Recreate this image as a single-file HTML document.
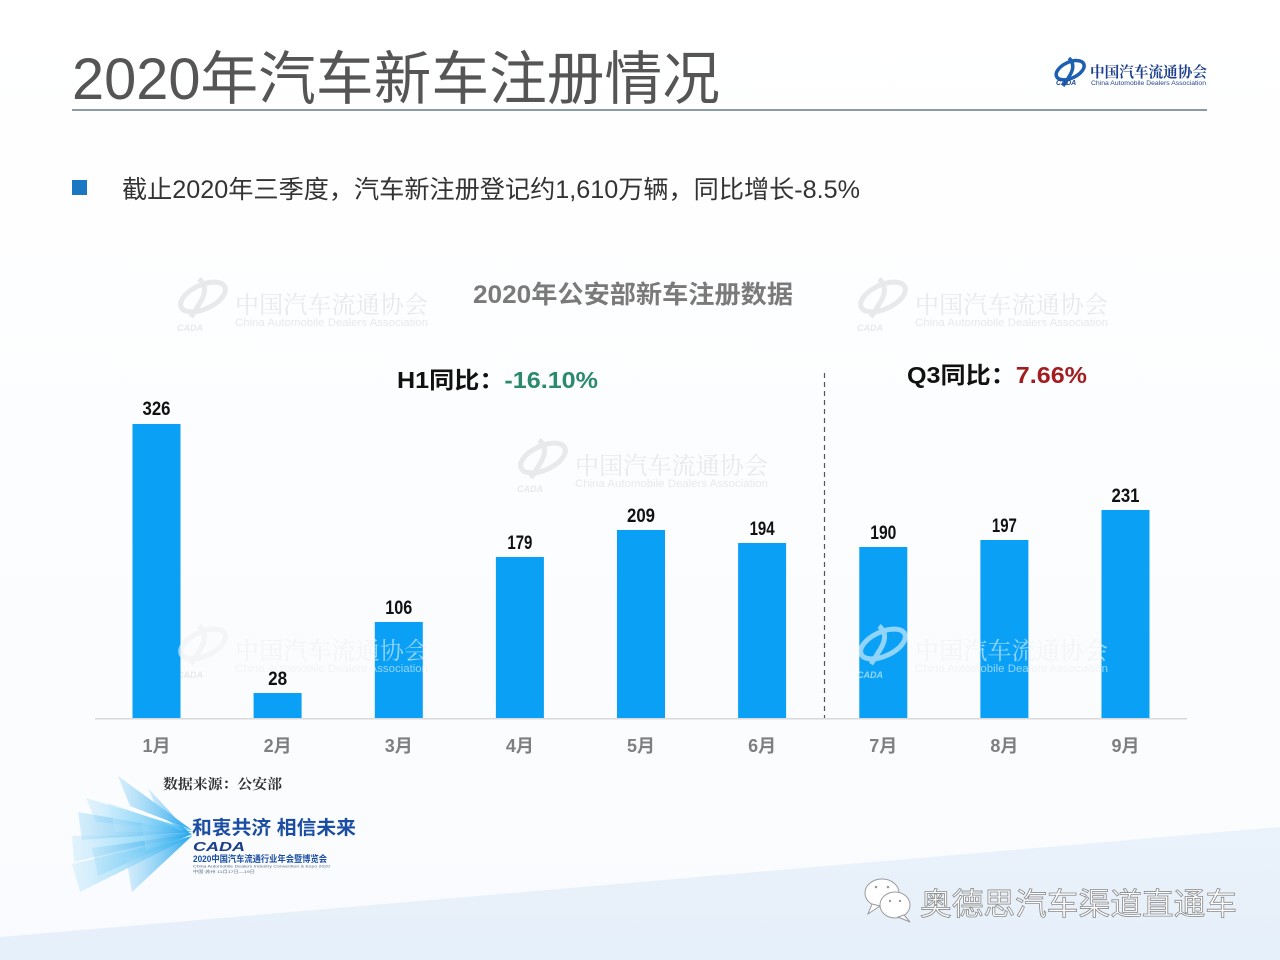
<!DOCTYPE html>
<html><head><meta charset="utf-8">
<style>
html,body{margin:0;padding:0;background:#fbfcfe;}
svg{display:block;}
.cjk{font-family:"Liberation Sans","Noto Sans CJK SC",sans-serif;}
.ser{font-family:"Liberation Serif","Noto Serif CJK SC",serif;}
</style></head>
<body>
<svg width="1280" height="960" viewBox="0 0 1280 960" xmlns="http://www.w3.org/2000/svg">
<defs>
<linearGradient id="bg" x1="0" y1="0" x2="0" y2="1">
<stop offset="0" stop-color="#ffffff"/><stop offset="1" stop-color="#f9fbfe"/>
</linearGradient>
<linearGradient id="band" x1="0" y1="0" x2="0" y2="1">
<stop offset="0" stop-color="#eaf2fb"/><stop offset="1" stop-color="#e6f0fa"/>
</linearGradient>
<linearGradient id="ray" x1="0" y1="0" x2="1" y2="0">
<stop offset="0" stop-color="#a9dcf8" stop-opacity="0.45"/><stop offset="1" stop-color="#1ba3ec" stop-opacity="0.95"/>
</linearGradient>
<linearGradient id="ray2" x1="0" y1="0" x2="1" y2="0">
<stop offset="0" stop-color="#c6e9fb" stop-opacity="0.45"/><stop offset="1" stop-color="#3dbcf2" stop-opacity="0.9"/>
</linearGradient>
<g id="wmIcon">
<ellipse cx="0" cy="0" rx="24" ry="12" transform="rotate(-25)" fill="none" stroke="currentColor" stroke-width="5"/>
<path d="M-4 -18 Q6 -10 -2 4 Q-8 14 -12 20" fill="none" stroke="currentColor" stroke-width="5"/>
</g>
</defs>
<rect width="1280" height="960" fill="url(#bg)"/>
<polygon points="0,937 1280,827 1280,960 0,960" fill="url(#band)"/>

<!-- Title -->
<text x="72" y="99" class="cjk" font-size="58" fill="#555555" textLength="648" lengthAdjust="spacingAndGlyphs">2020年汽车新车注册情况</text>
<rect x="72" y="109" width="1135" height="2" fill="#8c9aa6"/>

<!-- top-right logo -->
<g transform="translate(1071,72)" color="#1d4a9c">
<ellipse cx="0" cy="-2" rx="15" ry="8" transform="rotate(-25)" fill="none" stroke="#1d5fb0" stroke-width="3.5"/>
<path d="M-2 -14 Q5 -7 -1 3 Q-5 10 -8 14" fill="none" stroke="#1d5fb0" stroke-width="3.5"/>
<text x="-15" y="13" font-family="Liberation Sans,sans-serif" font-size="7" font-style="italic" font-weight="bold" fill="#1d4a9c">CADA</text>
</g>
<text x="1090" y="77" class="ser" font-size="15" font-weight="bold" fill="#1d3f8f" textLength="117" lengthAdjust="spacingAndGlyphs">中国汽车流通协会</text>
<text x="1091" y="85" font-family="Liberation Sans,sans-serif" font-size="6.5" fill="#2a4a8a" textLength="115" lengthAdjust="spacingAndGlyphs">China Automobile Dealers Association</text>

<!-- bullet -->
<rect x="72" y="180" width="15" height="15" fill="#1a78c2"/>
<text x="122" y="198" class="cjk" font-size="25" fill="#333333" textLength="738" lengthAdjust="spacingAndGlyphs">截止2020年三季度，汽车新注册登记约1,610万辆，同比增长-8.5%</text>

<!-- watermarks (gray layer) -->
<g id="wm" fill="#e8e9eb" color="#e8e9eb">
<g transform="translate(203,297)"><use href="#wmIcon"/></g>
<text x="177" y="331" font-family="Liberation Sans,sans-serif" font-size="9" font-style="italic" font-weight="bold">CADA</text>
<text x="235" y="313" class="ser" font-size="24" textLength="193" lengthAdjust="spacingAndGlyphs">中国汽车流通协会</text>
<text x="235" y="326" font-family="Liberation Sans,sans-serif" font-size="11" textLength="193" lengthAdjust="spacingAndGlyphs">China Automobile Dealers Association</text>

<g transform="translate(883,297)"><use href="#wmIcon"/></g>
<text x="857" y="331" font-family="Liberation Sans,sans-serif" font-size="9" font-style="italic" font-weight="bold">CADA</text>
<text x="915" y="313" class="ser" font-size="24" textLength="193" lengthAdjust="spacingAndGlyphs">中国汽车流通协会</text>
<text x="915" y="326" font-family="Liberation Sans,sans-serif" font-size="11" textLength="193" lengthAdjust="spacingAndGlyphs">China Automobile Dealers Association</text>

<g transform="translate(543,458)"><use href="#wmIcon"/></g>
<text x="517" y="492" font-family="Liberation Sans,sans-serif" font-size="9" font-style="italic" font-weight="bold">CADA</text>
<text x="575" y="474" class="ser" font-size="24" textLength="193" lengthAdjust="spacingAndGlyphs">中国汽车流通协会</text>
<text x="575" y="487" font-family="Liberation Sans,sans-serif" font-size="11" textLength="193" lengthAdjust="spacingAndGlyphs">China Automobile Dealers Association</text>
</g>

<!-- chart title -->
<text x="473" y="303" class="cjk" font-size="25" font-weight="bold" fill="#7a7a7a" textLength="320" lengthAdjust="spacingAndGlyphs">2020年公安部新车注册数据</text>

<!-- H1 / Q3 -->
<text x="397" y="388" class="cjk" font-size="23" font-weight="bold" fill="#111111" textLength="201" lengthAdjust="spacingAndGlyphs">H1同比：<tspan fill="#2b8a6c">-16.10%</tspan></text>
<text x="907" y="383" class="cjk" font-size="23" font-weight="bold" fill="#111111" textLength="180" lengthAdjust="spacingAndGlyphs">Q3同比：<tspan fill="#a31c1f">7.66%</tspan></text>

<!-- dashed divider -->
<line x1="824.5" y1="373" x2="824.5" y2="718" stroke="#555555" stroke-width="1.2" stroke-dasharray="5,4"/>

<!-- gray watermarks lower (under bars) -->
<g fill="#e8e9eb" color="#e8e9eb">
<g transform="translate(203,644)"><use href="#wmIcon"/></g>
<text x="177" y="678" font-family="Liberation Sans,sans-serif" font-size="9" font-style="italic" font-weight="bold">CADA</text>
<text x="235" y="659" class="ser" font-size="24" textLength="193" lengthAdjust="spacingAndGlyphs">中国汽车流通协会</text>
<text x="235" y="672" font-family="Liberation Sans,sans-serif" font-size="11" textLength="193" lengthAdjust="spacingAndGlyphs">China Automobile Dealers Association</text>
<g transform="translate(883,644)"><use href="#wmIcon"/></g>
<text x="857" y="678" font-family="Liberation Sans,sans-serif" font-size="9" font-style="italic" font-weight="bold">CADA</text>
<text x="915" y="659" class="ser" font-size="24" textLength="193" lengthAdjust="spacingAndGlyphs">中国汽车流通协会</text>
<text x="915" y="672" font-family="Liberation Sans,sans-serif" font-size="11" textLength="193" lengthAdjust="spacingAndGlyphs">China Automobile Dealers Association</text>
</g>

<!-- axis -->
<rect x="95" y="718" width="1092" height="1.5" fill="#d9d9d9"/>

<!-- bars -->
<g fill="#0aa0f6">
<rect x="132.5" y="424" width="48" height="294"/>
<rect x="253.6" y="693" width="48" height="25"/>
<rect x="374.8" y="622" width="48" height="96"/>
<rect x="495.9" y="557" width="48" height="161"/>
<rect x="617" y="530" width="48" height="188"/>
<rect x="738.1" y="543" width="48" height="175"/>
<rect x="859.3" y="547" width="48" height="171"/>
<rect x="980.4" y="540" width="48" height="178"/>
<rect x="1101.5" y="510" width="48" height="208"/>
</g>

<!-- white watermark layer over bars -->
<g fill="#ffffff" color="#ffffff" opacity="0.55">
<g transform="translate(203,644)"><use href="#wmIcon"/></g>
<text x="235" y="659" class="ser" font-size="24" textLength="193" lengthAdjust="spacingAndGlyphs">中国汽车流通协会</text>
<text x="235" y="672" font-family="Liberation Sans,sans-serif" font-size="11" textLength="193" lengthAdjust="spacingAndGlyphs">China Automobile Dealers Association</text>
<g transform="translate(883,644)"><use href="#wmIcon"/></g>
<text x="857" y="678" font-family="Liberation Sans,sans-serif" font-size="9" font-style="italic" font-weight="bold">CADA</text>
<text x="915" y="659" class="ser" font-size="24" textLength="193" lengthAdjust="spacingAndGlyphs">中国汽车流通协会</text>
<text x="915" y="672" font-family="Liberation Sans,sans-serif" font-size="11" textLength="193" lengthAdjust="spacingAndGlyphs">China Automobile Dealers Association</text>
</g>

<!-- data labels -->
<g font-family="Liberation Sans Narrow,Liberation Sans,sans-serif" font-weight="bold" font-size="19" fill="#111111" text-anchor="middle">
<text x="156.5" y="415" textLength="28" lengthAdjust="spacingAndGlyphs">326</text>
<text x="277.6" y="685" textLength="19" lengthAdjust="spacingAndGlyphs">28</text>
<text x="398.8" y="614" textLength="27" lengthAdjust="spacingAndGlyphs">106</text>
<text x="519.9" y="549" textLength="25" lengthAdjust="spacingAndGlyphs">179</text>
<text x="641" y="522" textLength="28" lengthAdjust="spacingAndGlyphs">209</text>
<text x="762.1" y="535" textLength="25" lengthAdjust="spacingAndGlyphs">194</text>
<text x="883.3" y="539" textLength="26" lengthAdjust="spacingAndGlyphs">190</text>
<text x="1004.4" y="532" textLength="25" lengthAdjust="spacingAndGlyphs">197</text>
<text x="1125.5" y="502" textLength="28" lengthAdjust="spacingAndGlyphs">231</text>
</g>

<!-- x labels -->
<g class="cjk" font-weight="bold" font-size="18" fill="#7f7f7f" text-anchor="middle">
<text x="156.5" y="752">1月</text>
<text x="277.6" y="752">2月</text>
<text x="398.8" y="752">3月</text>
<text x="519.9" y="752">4月</text>
<text x="641" y="752">5月</text>
<text x="762.1" y="752">6月</text>
<text x="883.3" y="752">7月</text>
<text x="1004.4" y="752">8月</text>
<text x="1125.5" y="752">9月</text>
</g>

<!-- bottom-left: source + event logo -->
<text x="163" y="789" class="ser" font-size="14" font-weight="bold" fill="#333333" textLength="119" lengthAdjust="spacingAndGlyphs">数据来源：公安部</text>
<g>
<polygon points="192,830 118,776 130,806" fill="url(#ray)"/>
<polygon points="192,830 86,798 96,822" fill="url(#ray2)"/>
<polygon points="192,832 78,812 82,840" fill="url(#ray)"/>
<polygon points="192,832 108,803 116,832" fill="url(#ray2)"/>
<polygon points="192,834 72,836 74,862" fill="url(#ray2)"/>
<polygon points="192,834 92,848 98,876" fill="url(#ray)"/>
<polygon points="192,836 72,864 80,892" fill="url(#ray2)"/>
<polygon points="192,836 126,858 132,892" fill="url(#ray)"/>
<polygon points="192,836 148,788 160,816" fill="url(#ray)"/>
<polygon points="192,834 140,815 146,850" fill="url(#ray)"/>
</g>
<text x="192" y="834" class="cjk" font-size="19" font-weight="bold" fill="#1b4ea3" textLength="164" lengthAdjust="spacingAndGlyphs">和衷共济 相信未来</text>
<text x="193" y="851" font-family="Liberation Sans,sans-serif" font-size="13" font-weight="bold" font-style="italic" fill="#1b3f8a" textLength="52" lengthAdjust="spacingAndGlyphs">CADA</text>
<text x="193" y="862" class="cjk" font-size="9" font-weight="bold" fill="#1b4ea3" textLength="134" lengthAdjust="spacingAndGlyphs">2020中国汽车流通行业年会暨博览会</text>
<text x="193" y="867.5" font-family="Liberation Sans,sans-serif" font-size="4" fill="#5a6a8a" textLength="137" lengthAdjust="spacingAndGlyphs">China Automobile Dealers Industry Convention &amp; Expo 2020</text>
<text x="193" y="873" class="cjk" font-size="4" fill="#5a6a8a" textLength="62" lengthAdjust="spacingAndGlyphs">中国·苏州 11月17日—19日</text>

<!-- bottom-right WeChat watermark -->
<g fill="#ffffff" stroke="#9a9a9a" stroke-width="1">
<ellipse cx="882" cy="893" rx="17" ry="14"/>
<path d="M872 904 L868 914 L880 906 Z"/>
<ellipse cx="895" cy="905" rx="15" ry="13"/>
<path d="M904 915 L910 922 L898 917 Z"/>
</g>
<g fill="#9a9a9a">
<circle cx="876" cy="887" r="1.3"/><circle cx="888" cy="887" r="1.3"/>
<circle cx="890" cy="901" r="1.2"/><circle cx="900" cy="901" r="1.2"/>
</g>
<text x="920" y="915" class="cjk" font-size="31" fill="#ffffff" stroke="#8a8a8a" stroke-width="0.8" textLength="317" lengthAdjust="spacingAndGlyphs">奥德思汽车渠道直通车</text>
</svg>
</body></html>
